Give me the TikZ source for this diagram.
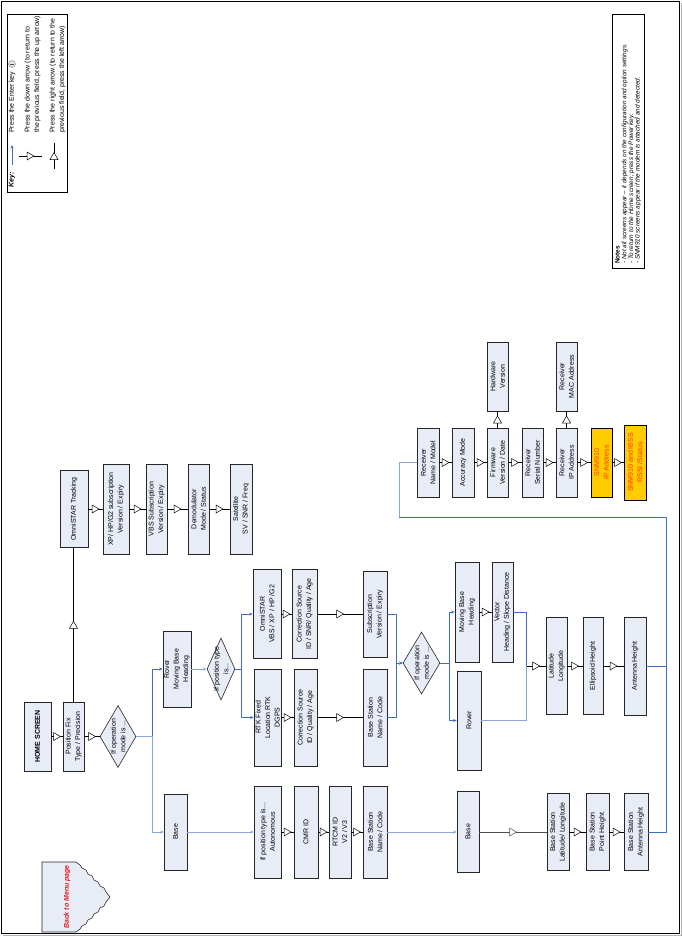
\documentclass[tikz,border=0pt]{standalone}
\usepackage{fontspec}
\setmainfont{Liberation Sans}
\usepackage{xcolor}
\usetikzlibrary{shapes.geometric,arrows.meta,decorations.markings}

\definecolor{screenfill}{RGB}{231,236,247}
\definecolor{linkblue}{RGB}{64,110,196}
\definecolor{linklight}{RGB}{140,166,214}
\definecolor{snmfill}{RGB}{255,204,0}
\definecolor{snmtext}{RGB}{255,51,0}
\definecolor{menutext}{RGB}{240,20,20}

\begin{document}
\begin{tikzpicture}[
    x=1pt, y=-1pt,
    font=\fontsize{7}{9.5}\selectfont,
    screen/.style 2 args={rectangle, draw=black!85, fill=screenfill, rotate=90, align=center, inner sep=1pt, line width=0.6pt, minimum width=#1pt, minimum height=#2pt},
    decision/.style 2 args={diamond, draw=black!85, fill=screenfill, rotate=90, align=center, inner sep=0pt, line width=0.6pt, minimum width=#1pt, minimum height=#2pt},
    snm/.style={fill=snmfill, draw=black, text=snmtext},
    flow/.style={draw, line width=0.6pt, postaction={decorate}, decoration={markings, mark=at position 0.5 with {\filldraw[fill=white, line width=0.5pt] (-3.5pt,-4pt) -- (3.5pt,0pt) -- (-3.5pt,4pt) -- cycle;}}},
    link/.style={draw=linkblue, line width=0.7pt, -{Stealth[length=3.5pt, width=3pt]}},
    lightlink/.style={link, draw=linklight},
    noarrow/.style={-},
    keytext/.style={rotate=90, anchor=west, align=left, inner sep=0pt}
]
    \useasboundingbox (0,0) rectangle (682,937);

    % Page frame
    \draw[gray!60, line width=1pt] (3,935) -- (681,935) -- (681,3);
    \draw[line width=0.8pt] (1,1) rectangle (679,933);

    % Key
    \draw[line width=0.6pt] (7,14) rectangle (67,192);
    \node[keytext, font=\fontsize{7}{9.5}\selectfont\bfseries\itshape] (keytitle) at (12,188) {Key:};
    \node[keytext] (enterkey) at (12,133) {Press the Enter key};
    \node[circle, draw=gray, fill=gray!20, minimum size=7pt, inner sep=0pt] (entersym) at (12,64) {};
    \draw[gray!60!black, line width=0.6pt] ([xshift=-1.6pt]entersym.center) -- ([xshift=1.6pt]entersym.center);
    \node[keytext] (downkey) at (32.5,133) {Press the down arrow (to return to\\the previous field, press the up arrow)};
    \node[keytext] (rightkey) at (57.5,133) {Press the right arrow (to return to the\\previous field, press the left arrow)};
    \draw[link] (12,165) -- (12,145);
    \draw[flow] (19,156) -- (42,156);
    \draw[flow] (54,169) -- (54,143);

    % Notes
    \draw[line width=0.6pt] (612,14) rectangle (644,268);
    \node[keytext, anchor=north west, font=\fontsize{6.4}{6.7}\selectfont] (notes) at (615,264) {\textbf{Notes}\\\textit{- Not all screens appear -- it depends on the configuration and option settings.}\\\textit{- To return to the Home screen; press the Power key.}\\\textit{- SNM910 screens appear if the modem is attached and detected.}};

    % Back to menu
    \filldraw[draw=black!85, fill=screenfill, line width=0.6pt] (42,862) -- (76,862) -- (80,865) -- (82,868) -- (86,870) -- (88,874) -- (92,876) -- (94,880) -- (98,882) -- (100,886) -- (104,888) -- (106,892) -- (110,897) -- (106,902) -- (104,906) -- (100,908) -- (98,912) -- (94,914) -- (92,918) -- (88,920) -- (86,924) -- (82,926) -- (80,929) -- (76,932) -- (42,932) -- cycle;
    \node[rotate=90, text=menutext, font=\fontsize{7}{9.5}\selectfont\bfseries\itshape] (menu) at (67,897) {Back to Menu page};

    % Home screen
    \node[screen={69}{27}, font=\fontsize{7}{9.5}\selectfont\bfseries] (home) at (37.5,736.5) {HOME SCREEN};
    \node[screen={69}{21}] (posfix) at (73.5,736.5) {Position Fix\\Type / Precision};
    \node[decision={62}{36}] (opmode) at (118,736.5) {\makebox[0pt]{If operation}\\\makebox[0pt]{mode is ...}};

    % OmniSTAR tracking
    \node[screen={77}{28}] (omnitrack) at (74,509) {OmniSTAR Tracking};
    \node[screen={90}{26}] (xpsub) at (116,509) {XP/ HP/G2 subscription\\Version / Expiry};
    \node[screen={90}{21}] (vbssub) at (156.5,509) {VBS Subscription\\Version / Expiry};
    \node[screen={90}{21}] (demod) at (198.5,509) {Demodulator\\Mode / Status};
    \node[screen={90}{22}] (satellite) at (241,509) {Satellite\\SV / SNR / Freq};

    % Rover / moving base
    \node[screen={76}{28}] (rovermb) at (177,669) {Rover\\Moving Base\\Heading};
    \node[decision={62}{28}] (postype) at (221,669) {\makebox[0pt]{If position type}\\\makebox[0pt]{is...}};
    \node[screen={89}{28}] (omnistar) at (267,614) {OmniSTAR\\VBS / XP / HP /G2};
    \node[screen={89}{25}] (corrsrc) at (304.5,614) {Correction Source\\ID / SNR/ Quality / Age};
    \node[screen={86}{24}] (subscr) at (375,614) {Subscription\\Version / Expiry};
    \node[screen={97}{27}] (rtk) at (267.5,717.5) {RTK Fixed\\Location RTK\\DGPS};
    \node[screen={97}{23}] (rtkcorr) at (305.5,717.5) {Correction Source\\ID / Quality / Age};
    \node[screen={97}{24}] (rtkbase) at (375,717.5) {Base Station\\Name / Code};

    % Base
    \node[screen={76}{23}] (base1) at (175.5,832) {Base};
    \node[screen={92}{27}] (auton) at (267.5,832) {If position type is...\\Autonomous};
    \node[screen={92}{24}] (cmr) at (306,832) {CMR ID};
    \node[screen={92}{22}] (rtcm) at (340,832) {RTCM ID\\V2 / V3};
    \node[screen={92}{24}] (basename) at (375,832) {Base Station\\Name / Code};

    % Second operation mode
    \node[decision={62}{37}] (opmode2) at (421.5,663) {\makebox[0pt]{If operation}\\\makebox[0pt]{mode is ...}};
    \node[screen={100}{24}] (movbase) at (467,612) {Moving Base\\Heading};
    \node[screen={100}{21}] (vector) at (502.5,612) {Vector\\Heading / Slope Distance};
    \node[screen={99}{24}] (rover2) at (469,720.5) {Rover};
    \node[screen={81}{22}] (base2) at (468,832) {Base};
    \node[screen={97}{21}] (lat) at (556.5,666) {Latitude\\Longitude};
    \node[screen={97}{20}] (ellip) at (593,666) {Ellipsoid Height};
    \node[screen={98}{22}] (anth) at (635,666) {Antenna Height};
    \node[screen={77}{22}] (bslat) at (558,832) {Base Station\\Latitude/ Longitude};
    \node[screen={77}{23}] (bspoint) at (597.5,832) {Base Station\\Point Height};
    \node[screen={77}{24}] (bsant) at (636,832) {Base Station\\Antenna Height};

    % Receiver information
    \node[screen={69}{22}] (rxname) at (428,462.5) {Receiver\\Name / Model};
    \node[screen={69}{22}] (accmode) at (463,462.5) {Accuracy Mode};
    \node[screen={69}{21}] (firmw) at (497.5,462.5) {Firmware\\Version / Date};
    \node[screen={69}{21}] (serial) at (532.5,462.5) {Receiver\\Serial Number};
    \node[screen={69}{21}] (ipaddr) at (566.5,462.5) {Receiver\\IP Address};
    \node[screen={69}{21}, snm] (snmip) at (601.5,462.5) {SNM910\\IP Address};
    \node[screen={75}{22}, snm] (snmrssi) at (635,462.5) {SNM910 and IBSS\\RSSI /Status};
    \node[screen={69}{21}] (hwver) at (497.5,376.5) {Hardware\\Version};
    \node[screen={69}{21}] (macaddr) at (566.5,376.5) {Receiver\\MAC Address};

    % Home flow
    \draw[flow] (home.south) -- (posfix.north);
    \draw[flow] (posfix.south) -- (opmode.north);
    \draw[flow] (posfix.east) -- (posfix.east |- omnitrack.west);
    \draw[flow] (omnitrack.south) -- (xpsub.north);
    \draw[flow] (xpsub.south) -- (vbssub.north);
    \draw[flow] (vbssub.south) -- (demod.north);
    \draw[flow] (demod.south) -- (satellite.north);

    % Operation mode split
    \draw[link] (opmode.south) -- ++(16,0) |- (rovermb.north);
    \draw[lightlink] (opmode.south) -- ++(16,0) |- (base1.north);
    \draw[lightlink] (rovermb.south) -- (postype.north);
    \draw[link] (postype.south) -- ++(6,0) |- (omnistar.north);
    \draw[link] (postype.south) -- ++(6,0) |- (rtk.north);
    \draw[lightlink] (base1.south) -- (auton.north);

    % Correction chains
    \draw[flow] (omnistar.south) -- (corrsrc.north);
    \draw[flow] (corrsrc.south) -- (subscr.north);
    \draw[flow] (rtk.south) -- (rtkcorr.north);
    \draw[flow] (rtkcorr.south) -- (rtkbase.north);
    \draw[flow] (auton.south) -- (cmr.north);
    \draw[flow] (cmr.south) -- (rtcm.north);
    \draw[flow] (rtcm.south) -- (basename.north);

    % Second split
    \draw[link] (subscr.south) -- ++(9,0) |- (opmode2.north);
    \draw[link] (rtkbase.south) -- ++(9,0) |- (opmode2.north);
    \draw[link] (opmode2.south) -- ++(9,0) |- (movbase.north);
    \draw[link] (opmode2.south) -- ++(9,0) |- (rover2.north);
    \draw[lightlink] (basename.south) -- (base2.north);
    \draw[flow] (movbase.south) -- (vector.north);
    \coordinate (latjoin) at ([xshift=-19pt]lat.north);
    \draw[link, noarrow] (vector.south) -| (latjoin);
    \draw[lightlink, noarrow] (rover2.south) -| (latjoin);
    \draw[flow] (latjoin) -- (lat.north);
    \draw[flow] (lat.south) -- (ellip.north);
    \draw[flow] (ellip.south) -- (anth.north);
    \draw[flow, draw=black!70] (base2.south) -- (bslat.north);
    \draw[flow] (bslat.south) -- (bspoint.north);
    \draw[flow] (bspoint.south) -- (bsant.north);

    % Return to receiver information
    \coordinate (backtop) at (666,517);
    \coordinate (backleft) at (399,517);
    \draw[link, noarrow] (anth.south) -| (backtop) -- (backleft);
    \draw[link, noarrow] (bsant.south) -| (backtop);
    \draw[lightlink, noarrow] (backleft) |- (rxname.north);

    % Receiver chain
    \draw[flow] (rxname.south) -- (accmode.north);
    \draw[flow] (accmode.south) -- (firmw.north);
    \draw[flow] (firmw.south) -- (serial.north);
    \draw[flow] (serial.south) -- (ipaddr.north);
    \draw[flow] (ipaddr.south) -- (snmip.north);
    \draw[flow] (snmip.south) -- (snmrssi.north);
    \draw[flow] (firmw.east) -- (hwver.west);
    \draw[flow] (ipaddr.east) -- (macaddr.west);

\end{tikzpicture}
\end{document}
